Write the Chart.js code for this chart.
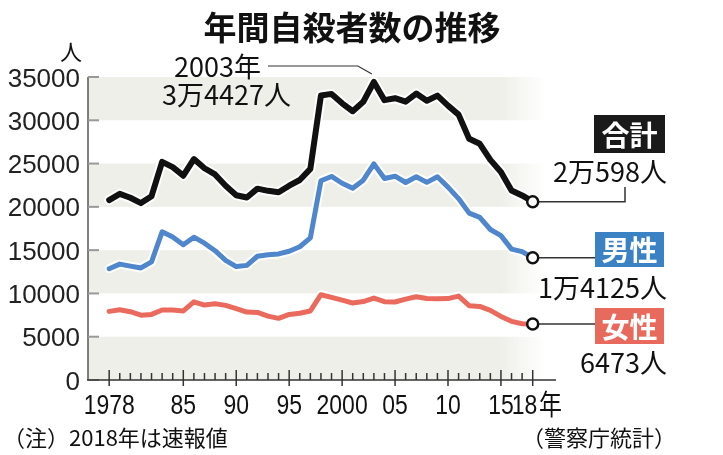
<!DOCTYPE html>
<html lang="ja">
<head>
<meta charset="utf-8">
<script src="https://cdn.jsdelivr.net/npm/chart.js@4/dist/chart.umd.min.js"></script>
<style>
  html, body { margin: 0; padding: 0; background: #fff; }
  #wrap { width: 723px; height: 455px; }
</style>
</head>
<body>
<div id="wrap"><canvas id="chart" width="723" height="455"></canvas></div>
<script>
// 年間自殺者数（警察庁統計）
var years = [1978, 1979, 1980, 1981, 1982, 1983, 1984, 1985, 1986, 1987,
             1988, 1989, 1990, 1991, 1992, 1993, 1994, 1995, 1996, 1997,
             1998, 1999, 2000, 2001, 2002, 2003, 2004, 2005, 2006, 2007,
             2008, 2009, 2010, 2011, 2012, 2013, 2014, 2015, 2016, 2017, 2018];
var total = [20788, 21503, 21048, 20434, 21228, 25202, 24596, 23599, 25524, 24460,
             23742, 22436, 21346, 21084, 22104, 21851, 21679, 22445, 23104, 24391,
             32863, 33048, 31957, 31042, 32143, 34427, 32325, 32552, 32155, 33093,
             32249, 32845, 31690, 30651, 27858, 27283, 25427, 24025, 21897, 21321, 20598];
var male = [12859, 13386, 13155, 12942, 13654, 17116, 16508, 15624, 16497, 15802,
            14934, 13818, 13102, 13242, 14296, 14468, 14560, 14874, 15393, 16416,
            23013, 23512, 22727, 22144, 23080, 24963, 23272, 23540, 22813, 23478,
            22831, 23472, 22283, 20955, 19273, 18787, 17386, 16681, 15121, 14826, 14125];
var female = [7929, 8117, 7893, 7492, 7574, 8086, 8088, 7975, 9027, 8658,
              8808, 8618, 8244, 7842, 7808, 7383, 7119, 7571, 7711, 7975,
              9850, 9536, 9230, 8898, 9063, 9464, 9053, 9012, 9342, 9615,
              9418, 9373, 9407, 9696, 8585, 8496, 8041, 7344, 6776, 6495, 6473];

var yTicks = [0, 5000, 10000, 15000, 20000, 25000, 30000, 35000];
var xTickYears = [1978, 1985, 1990, 1995, 2000, 2005, 2010, 2015, 2018];
var xTickLabels = ["1978", "85", "90", "95", "2000", "05", "10", "15", "18年"];

var seriesNames = ["合計", "男性", "女性"];
var seriesLabels = ["2万598人", "1万4125人", "6473人"];
var peakYear = 2003;
var peakLabel = ["2003年", "3万4427人"];

var JP = "'Noto Sans CJK JP', 'Noto Sans', sans-serif";
var NUM = "'Liberation Sans', Arial, sans-serif";
var last = years.length - 1;

function pts(vals) {
  return years.map(function (y, i) { return { x: y, y: vals[i] }; });
}
function endPoint(ctx) {
  return ctx.dataIndex === last ? 5.5 : 0;
}
function line(vals, color, width, order, withPoint) {
  return {
    data: pts(vals),
    borderColor: color,
    borderWidth: width,
    borderJoinStyle: "round",
    borderCapStyle: "round",
    tension: 0,
    clip: false,
    order: order,
    pointRadius: withPoint ? endPoint : 0,
    pointBackgroundColor: "#fff",
    pointBorderColor: "#111",
    pointBorderWidth: 2.5,
    pointHoverRadius: 0
  };
}

var decor = {
  id: "decor",
  beforeDatasetsDraw: function (chart) {
    var c = chart.ctx, xs = chart.scales.x, ys = chart.scales.y, a = chart.chartArea;
    c.save();
    // 縞模様の背景（右端はフェード）
    var g = c.createLinearGradient(a.left, 0, a.right, 0);
    var f0 = (500 - a.left) / (a.right - a.left), f1 = (546 - a.left) / (a.right - a.left);
    g.addColorStop(0, "#efefe9");
    g.addColorStop(f0, "#efefe9");
    g.addColorStop(f1, "rgba(239,239,233,0)");
    g.addColorStop(1, "rgba(239,239,233,0)");
    c.fillStyle = g;
    for (var i = 0; i < yTicks.length - 1; i += 2) {
      var t = ys.getPixelForValue(yTicks[i + 1]), b = ys.getPixelForValue(yTicks[i]);
      c.fillRect(a.left, t, a.right - a.left, b - t);
    }
    // 軸
    var y0 = ys.getPixelForValue(0);
    c.strokeStyle = "#555";
    c.lineWidth = 1.5;
    c.beginPath();
    c.moveTo(a.left, ys.getPixelForValue(35000));
    c.lineTo(a.left, y0);
    c.stroke();
    c.strokeStyle = "#999";
    c.lineWidth = 2;
    yTicks.forEach(function (v) {
      var p = ys.getPixelForValue(v);
      c.beginPath(); c.moveTo(a.left, p); c.lineTo(a.left + 11, p); c.stroke();
    });
    c.strokeStyle = "#333";
    c.lineWidth = 1.5;
    c.beginPath(); c.moveTo(a.left - 1, y0); c.lineTo(a.right, y0); c.stroke();
    years.forEach(function (yr) {
      var p = xs.getPixelForValue(yr);
      var major = xTickYears.indexOf(yr) >= 0;
      c.beginPath();
      c.moveTo(p, major ? y0 - 10 : y0 - 7);
      c.lineTo(p, major ? y0 + 6 : y0);
      c.stroke();
    });
    // 引き出し線
    var xe = xs.getPixelForValue(years[last]);
    c.strokeStyle = "#333";
    c.lineWidth = 1.5;
    var yt = ys.getPixelForValue(total[last]);
    c.beginPath(); c.moveTo(xe, yt); c.lineTo(625, yt); c.lineTo(625, 187); c.stroke();
    var ym = ys.getPixelForValue(male[last]);
    c.beginPath(); c.moveTo(xe, ym); c.lineTo(595, ym); c.stroke();
    var yf = ys.getPixelForValue(female[last]);
    c.beginPath(); c.moveTo(xe, yf); c.lineTo(595, yf); c.stroke();
    // 2003年のピーク注記
    var px = xs.getPixelForValue(peakYear), py = ys.getPixelForValue(total[years.indexOf(peakYear)]);
    c.lineWidth = 1.2;
    c.beginPath(); c.moveTo(268, 66); c.lineTo(px - 16, 66); c.lineTo(px - 2, py - 8); c.stroke();
    c.restore();
  },
  afterDraw: function (chart) {
    var c = chart.ctx, xs = chart.scales.x, ys = chart.scales.y;
    c.save();
    c.fillStyle = "#111";
    // タイトル
    c.font = "bold 33px " + JP;
    c.textAlign = "center";
    c.textBaseline = "middle";
    c.fillText("年間自殺者数の推移", 352, 27);
    // 縦軸
    c.font = "22px " + JP;
    c.fillText("人", 71, 52);
    c.font = "26px " + NUM;
    c.textAlign = "right";
    c.textBaseline = "alphabetic";
    c.fillStyle = "#222";
    yTicks.forEach(function (v) {
      c.fillText(String(v), 80, ys.getPixelForValue(v) + 9.5);
    });
    // 横軸ラベル（やや長体）
    c.font = "28px " + NUM;
    c.fillStyle = "#111";
    xTickYears.forEach(function (yr, i) {
      var p = xs.getPixelForValue(yr);
      var txt = xTickLabels[i];
      c.save();
      if (txt.indexOf("年") >= 0) {
        var num = txt.replace("年", "");
        c.translate(p - 21, 414);
        c.scale(0.82, 1);
        c.textAlign = "left";
        c.fillText(num, 0, 0);
        var w = c.measureText(num).width;
        c.font = "28px " + JP;
        c.fillText("年", w + 2, 1);
      } else {
        c.translate(p, 414);
        c.scale(0.82, 1);
        c.textAlign = "center";
        c.fillText(txt, 0, 0);
      }
      c.restore();
    });
    // ピーク注記
    c.font = "27px " + JP;
    c.textAlign = "right";
    c.textBaseline = "middle";
    c.fillText(peakLabel[0], 261, 67);
    c.fillText(peakLabel[1], 291, 95);
    // 系列ラベル
    var boxes = [[594, 115, 71, 38, "#1a1a1a"], [595, 232, 69, 35, "#3a82c4"], [595, 308, 69, 36, "#e86a5c"]];
    var valY = [172, 288, 363];
    boxes.forEach(function (b, i) {
      c.fillStyle = b[4];
      c.fillRect(b[0], b[1], b[2], b[3]);
      c.fillStyle = "#fff";
      c.font = "bold 28px " + JP;
      c.textAlign = "center";
      c.fillText(seriesNames[i], b[0] + b[2] / 2, b[1] + b[3] / 2 + 1);
      c.fillStyle = "#111";
      c.font = "27px " + JP;
      c.textAlign = "right";
      c.fillText(seriesLabels[i], 667, valY[i]);
    });
    // 注・出典
    c.font = "22px " + JP;
    c.textAlign = "left";
    c.fillText("（注）2018年は速報値", 3, 438);
    c.textAlign = "right";
    c.fillText("（警察庁統計）", 676, 438);
    c.restore();
  }
};

new Chart(document.getElementById("chart"), {
  type: "line",
  data: {
    datasets: [
      line(total, "#111111", 6, 1, true),
      line(male, "#4f86cc", 5, 2, true),
      line(female, "#ea6b5d", 5, 3, true),
      line(total, "#ffffff", 10, 4, false),
      line(male, "#ffffff", 9, 5, false),
      line(female, "#ffffff", 9, 6, false)
    ]
  },
  options: {
    responsive: false,
    animation: false,
    events: [],
    layout: { padding: { left: 88, right: 167, top: 77, bottom: 75 } },
    plugins: { legend: { display: false }, tooltip: { enabled: false }, title: { display: false } },
    scales: {
      x: { type: "linear", min: 1976, max: 2020.2, display: false },
      y: { type: "linear", min: 0, max: 35000, display: false }
    }
  },
  plugins: [decor]
});
</script>
</body>
</html>
